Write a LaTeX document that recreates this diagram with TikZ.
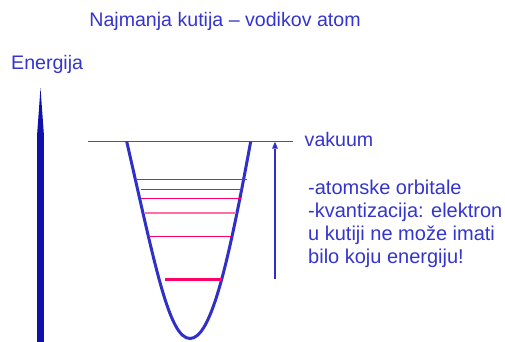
\documentclass[tikz,border=0pt]{standalone}
\usepackage{fontspec}
\setmainfont{Liberation Sans}
\usetikzlibrary{arrows.meta,positioning}
\definecolor{txtblue}{RGB}{52,52,206}
\definecolor{wellblue}{RGB}{48,48,200}
\definecolor{axisblue}{RGB}{16,16,170}
\definecolor{lvlpink}{RGB}{255,0,102}
\definecolor{lvllight}{RGB}{255,110,160}

\begin{document}
\begin{tikzpicture}[
  x=1pt, y=-1pt,
  txt/.style={text=txtblue, inner sep=0pt, font=\fontsize{19.6}{23.3}\selectfont},
  well/.style={draw=wellblue, line width=3pt},
  level/.style={draw=lvlpink, line width=1.3pt},
  axis/.style={draw=axisblue, line width=7pt,
               -{Triangle[length=48pt,width=7pt,line width=0pt]}},
  gap/.style={draw=wellblue, line width=2.4pt,
              -{Triangle[length=7pt,width=6pt,line width=0pt]}}
]
  \useasboundingbox (0,0) rectangle (505,342);

  \node[txt, anchor=base] (title) at (225,26.7) {Najmanja kutija -- vodikov atom};
  \node[txt, anchor=base west] (energy) at (11,70) {Energija};
  \node[txt, anchor=base west] (vac) at (304.5,146.5) {vakuum};
  \node[txt, anchor=north west, align=left, font=\fontsize{20}{23}\selectfont] (notes) at (308,180)
    {-atomske orbitale\\-kvantizacija: elektron\\u kutiji ne može imati\\bilo koju energiju!};

  % energy axis
  \coordinate (ebot) at (40.5,342);
  \coordinate (etop) at (40.5,88);
  \draw[axis] (ebot) -- (etop);

  % vacuum level
  \coordinate (vl) at (88,141.5);
  \coordinate (vr) at (293,141.5);
  \draw[draw=lvlpink, line width=1pt] (vl) -- (vr);

  % the well
  \draw[well] (126.7,141.5) .. controls (155,265) and (169,338.5) .. (190,338.5)
                             .. controls (211,338.5) and (228,265) .. (250.7,141.5);

  % bound levels
  \foreach \y/\xa/\xb in {179.3/136/246.7, 189.3/140.7/240.7, 198.3/140.7/240.7, 236.7/149.3/231}
    \draw[level] (\xa,\y) -- (\xb,\y);
  \draw[draw=lvllight, line width=2.2pt] (145,212.7) -- (236,212.7);
  \draw[draw=lvlpink, line width=3pt] (165.3,279.3) -- (221.7,279.3);

  % ionisation energy
  \coordinate (gbot) at (275,279.3);
  \coordinate (gtop) at (275,141.7);
  \draw[gap] (gbot) -- (gtop);
\end{tikzpicture}
\end{document}
